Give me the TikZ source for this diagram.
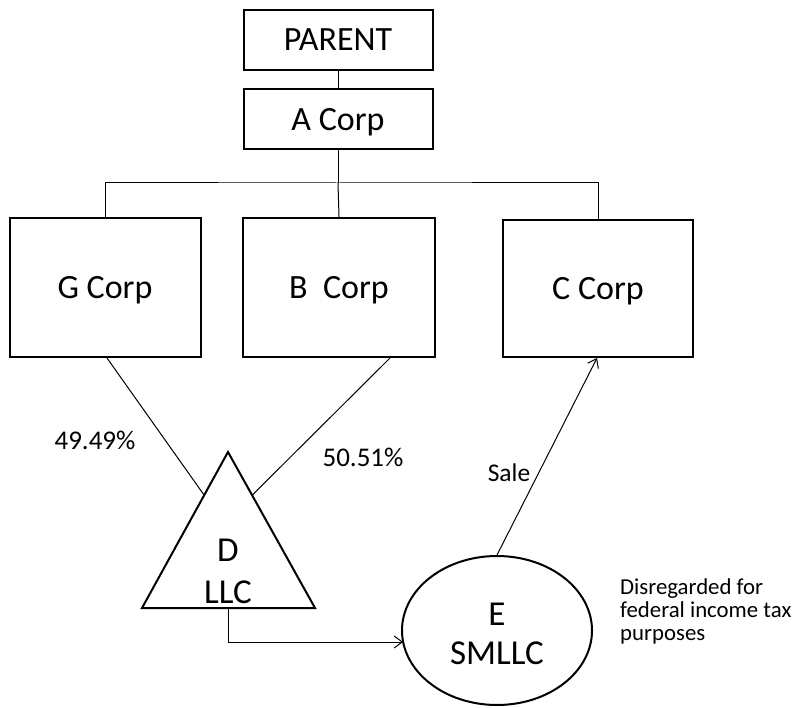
\documentclass[tikz,border=0pt]{standalone}
\usepackage{fontspec}
\setmainfont{Carlito}
\usetikzlibrary{arrows.meta,shapes.geometric,calc}
\tikzset{
  corpbox/.style={draw, line width=2pt, rectangle, inner sep=0pt, text depth=0pt, font=\fontsize{34}{38}\selectfont},
  link/.style={draw, line width=1pt},
  arrowlink/.style={link, -{Straight Barb[length=8pt,width=12pt,line width=1pt]}},
  pct/.style={font=\fontsize{27}{30}\selectfont, inner sep=0pt},
  salelbl/.style={font=\fontsize{25.5}{30}\selectfont, inner sep=0pt},
  note/.style={font=\fontsize{22.8}{23.3}\selectfont, inner sep=0pt, align=left, anchor=north west},
  bigtext/.style={font=\fontsize{35}{38}\selectfont, inner sep=0pt}
}
\begin{document}
\begin{tikzpicture}[x=1pt,y=-1pt]
\useasboundingbox[fill=white] (0,0) rectangle (800,708);
% boxes
\node[corpbox, minimum width=189pt, minimum height=60pt] (parent) at (338,40) {PARENT};
\node[corpbox, minimum width=189pt, minimum height=60pt] (acorp) at (338,119) {A Corp};
\node[corpbox, minimum width=191pt, minimum height=139pt] (gcorp) at (105,287.5) {G Corp};
\node[corpbox, minimum width=192pt, minimum height=139pt] (bcorp) at (339,287.5) {B\ \ Corp};
\node[corpbox, minimum width=190pt, minimum height=137pt] (ccorp) at (598,288.5) {C Corp};
% tree connectors
\draw[link] (parent.south) -- (acorp.north);
\coordinate (bus) at (338,183);
\draw[link] (acorp.south) -- (bus);
\draw[link] (gcorp.north) |- (bus) -| (ccorp.north);
\draw[link] (bus) -- (bcorp.north);
% triangle D LLC
\coordinate (dtop) at (228,452);
\coordinate (dbl) at (142,608);
\coordinate (dbr) at (315,608);
\coordinate (dbottom) at (228,608);
\draw[line width=2pt, line join=miter] (dtop) -- (dbl) -- (dbr) -- cycle;
\node[bigtext] (dlabel) at (228,550) {D};
\node[bigtext] (llclabel) at (228,592) {LLC};
\coordinate (dleftside) at ($(dtop)!0.277!(dbl)$);
\coordinate (drightside) at ($(dtop)!0.277!(dbr)$);
% ellipse E
\node[draw, line width=2pt, ellipse, minimum width=190pt, minimum height=149pt, inner sep=0pt] (esmllc) at (497,630.5) {};
\node[bigtext] (elabel) at (497,614) {E};
\node[bigtext] (smllclabel) at (497,653) {SMLLC};
% ownership lines
\draw[link] ([xshift=2pt]gcorp.south) -- (dleftside);
\draw[link] ([xshift=51pt]bcorp.south) -- (drightside);
\node[pct] (p1) at (95,440) {49.49\%};
\node[pct] (p2) at (363,457) {50.51\%};
% D to E
\coordinate (dcorner) at (228,642);
\coordinate (eentry) at ($(esmllc.center)+(-94,11.5)$);
\draw[arrowlink] (dbottom) -- (dcorner) -- (eentry);
% Sale
\draw[arrowlink] (esmllc.north) -- ([xshift=-1pt]ccorp.south);
\node[salelbl] (sale) at (509,473) {Sale};
% note
\node[note] (disreg) at (620,578) {Disregarded for\\federal income tax\\purposes};
\end{tikzpicture}
\end{document}
